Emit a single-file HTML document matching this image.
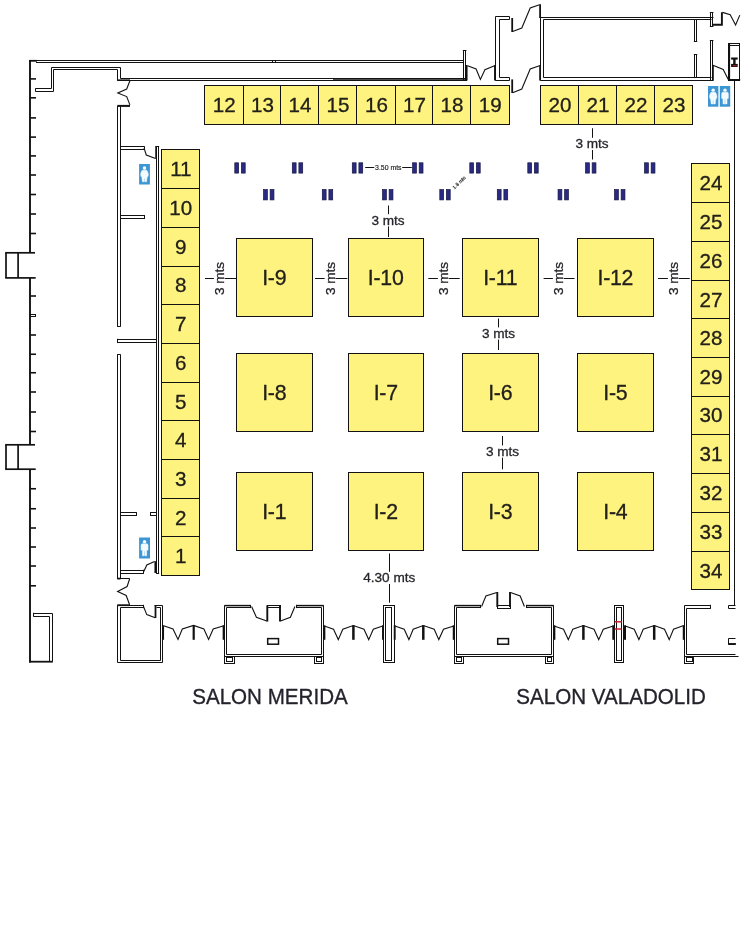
<!DOCTYPE html>
<html lang="es">
<head>
<meta charset="utf-8">
<title>Plano de stands - Salon Merida / Salon Valadolid</title>
<style>
html,body{margin:0;padding:0;background:#fff;}
body{width:748px;height:937px;overflow:hidden;}
svg{display:block;will-change:transform;}
svg text{font-family:"Liberation Sans",Arial,Helvetica,sans-serif;}
</style>
</head>
<body>
<svg width="748" height="937" viewBox="0 0 748 937">
<rect x="0" y="0" width="748" height="937" fill="#ffffff"/>
<rect x="204.5" y="85.5" width="39" height="39" fill="#fff380" stroke="#121212" stroke-width="1"/>
<text x="224.15" y="112.05" font-size="20.6" text-anchor="middle" fill="#22201a" stroke="#22201a" stroke-width="0.3">12</text>
<rect x="243.5" y="85.5" width="37" height="39" fill="#fff380" stroke="#121212" stroke-width="1"/>
<text x="262.4" y="112.05" font-size="20.6" text-anchor="middle" fill="#22201a" stroke="#22201a" stroke-width="0.3">13</text>
<rect x="280.5" y="85.5" width="38" height="39" fill="#fff380" stroke="#121212" stroke-width="1"/>
<text x="299.9" y="112.05" font-size="20.6" text-anchor="middle" fill="#22201a" stroke="#22201a" stroke-width="0.3">14</text>
<rect x="318.5" y="85.5" width="38" height="39" fill="#fff380" stroke="#121212" stroke-width="1"/>
<text x="337.9" y="112.05" font-size="20.6" text-anchor="middle" fill="#22201a" stroke="#22201a" stroke-width="0.3">15</text>
<rect x="356.5" y="85.5" width="39" height="39" fill="#fff380" stroke="#121212" stroke-width="1"/>
<text x="376.4" y="112.05" font-size="20.6" text-anchor="middle" fill="#22201a" stroke="#22201a" stroke-width="0.3">16</text>
<rect x="395.5" y="85.5" width="37" height="39" fill="#fff380" stroke="#121212" stroke-width="1"/>
<text x="414.4" y="112.05" font-size="20.6" text-anchor="middle" fill="#22201a" stroke="#22201a" stroke-width="0.3">17</text>
<rect x="432.5" y="85.5" width="38" height="39" fill="#fff380" stroke="#121212" stroke-width="1"/>
<text x="451.9" y="112.05" font-size="20.6" text-anchor="middle" fill="#22201a" stroke="#22201a" stroke-width="0.3">18</text>
<rect x="470.5" y="85.5" width="39" height="39" fill="#fff380" stroke="#121212" stroke-width="1"/>
<text x="490.15" y="112.05" font-size="20.6" text-anchor="middle" fill="#22201a" stroke="#22201a" stroke-width="0.3">19</text>
<rect x="540.5" y="85.5" width="38" height="39" fill="#fff380" stroke="#121212" stroke-width="1"/>
<text x="560.02" y="112.05" font-size="20.6" text-anchor="middle" fill="#22201a" stroke="#22201a" stroke-width="0.3">20</text>
<rect x="578.5" y="85.5" width="38" height="39" fill="#fff380" stroke="#121212" stroke-width="1"/>
<text x="597.9" y="112.05" font-size="20.6" text-anchor="middle" fill="#22201a" stroke="#22201a" stroke-width="0.3">21</text>
<rect x="616.5" y="85.5" width="38" height="39" fill="#fff380" stroke="#121212" stroke-width="1"/>
<text x="635.9" y="112.05" font-size="20.6" text-anchor="middle" fill="#22201a" stroke="#22201a" stroke-width="0.3">22</text>
<rect x="654.5" y="85.5" width="38" height="39" fill="#fff380" stroke="#121212" stroke-width="1"/>
<text x="674.02" y="112.05" font-size="20.6" text-anchor="middle" fill="#22201a" stroke="#22201a" stroke-width="0.3">23</text>
<rect x="161.5" y="149.5" width="38" height="39" fill="#fff380" stroke="#121212" stroke-width="1"/>
<text x="180.83" y="176.05" font-size="20.6" text-anchor="middle" fill="#22201a" stroke="#22201a" stroke-width="0.3">11</text>
<rect x="161.5" y="188.5" width="38" height="39" fill="#fff380" stroke="#121212" stroke-width="1"/>
<text x="180.83" y="214.8" font-size="20.6" text-anchor="middle" fill="#22201a" stroke="#22201a" stroke-width="0.3">10</text>
<rect x="161.5" y="227.5" width="38" height="39" fill="#fff380" stroke="#121212" stroke-width="1"/>
<text x="180.83" y="253.67" font-size="20.6" text-anchor="middle" fill="#22201a" stroke="#22201a" stroke-width="0.3">9</text>
<rect x="161.5" y="266.5" width="38" height="38" fill="#fff380" stroke="#121212" stroke-width="1"/>
<text x="180.83" y="292.42" font-size="20.6" text-anchor="middle" fill="#22201a" stroke="#22201a" stroke-width="0.3">8</text>
<rect x="161.5" y="304.5" width="38" height="39" fill="#fff380" stroke="#121212" stroke-width="1"/>
<text x="180.83" y="331.05" font-size="20.6" text-anchor="middle" fill="#22201a" stroke="#22201a" stroke-width="0.3">7</text>
<rect x="161.5" y="343.5" width="38" height="39" fill="#fff380" stroke="#121212" stroke-width="1"/>
<text x="180.83" y="369.92" font-size="20.6" text-anchor="middle" fill="#22201a" stroke="#22201a" stroke-width="0.3">6</text>
<rect x="161.5" y="382.5" width="38" height="38" fill="#fff380" stroke="#121212" stroke-width="1"/>
<text x="180.83" y="408.55" font-size="20.6" text-anchor="middle" fill="#22201a" stroke="#22201a" stroke-width="0.3">5</text>
<rect x="161.5" y="420.5" width="38" height="39" fill="#fff380" stroke="#121212" stroke-width="1"/>
<text x="180.83" y="446.92" font-size="20.6" text-anchor="middle" fill="#22201a" stroke="#22201a" stroke-width="0.3">4</text>
<rect x="161.5" y="459.5" width="38" height="39" fill="#fff380" stroke="#121212" stroke-width="1"/>
<text x="180.83" y="485.8" font-size="20.6" text-anchor="middle" fill="#22201a" stroke="#22201a" stroke-width="0.3">3</text>
<rect x="161.5" y="498.5" width="38" height="38" fill="#fff380" stroke="#121212" stroke-width="1"/>
<text x="180.83" y="524.55" font-size="20.6" text-anchor="middle" fill="#22201a" stroke="#22201a" stroke-width="0.3">2</text>
<rect x="161.5" y="536.5" width="38" height="39" fill="#fff380" stroke="#121212" stroke-width="1"/>
<text x="180.83" y="563.12" font-size="20.6" text-anchor="middle" fill="#22201a" stroke="#22201a" stroke-width="0.3">1</text>
<rect x="691.5" y="163.5" width="38" height="39" fill="#fff380" stroke="#121212" stroke-width="1"/>
<text x="710.95" y="190.3" font-size="20.6" text-anchor="middle" fill="#22201a" stroke="#22201a" stroke-width="0.3">24</text>
<rect x="691.5" y="202.5" width="38" height="39" fill="#fff380" stroke="#121212" stroke-width="1"/>
<text x="710.95" y="229.17" font-size="20.6" text-anchor="middle" fill="#22201a" stroke="#22201a" stroke-width="0.3">25</text>
<rect x="691.5" y="241.5" width="38" height="39" fill="#fff380" stroke="#121212" stroke-width="1"/>
<text x="710.95" y="268.05" font-size="20.6" text-anchor="middle" fill="#22201a" stroke="#22201a" stroke-width="0.3">26</text>
<rect x="691.5" y="280.5" width="38" height="38" fill="#fff380" stroke="#121212" stroke-width="1"/>
<text x="710.95" y="306.55" font-size="20.6" text-anchor="middle" fill="#22201a" stroke="#22201a" stroke-width="0.3">27</text>
<rect x="691.5" y="318.5" width="38" height="39" fill="#fff380" stroke="#121212" stroke-width="1"/>
<text x="710.95" y="345.05" font-size="20.6" text-anchor="middle" fill="#22201a" stroke="#22201a" stroke-width="0.3">28</text>
<rect x="691.5" y="357.5" width="38" height="39" fill="#fff380" stroke="#121212" stroke-width="1"/>
<text x="710.95" y="383.8" font-size="20.6" text-anchor="middle" fill="#22201a" stroke="#22201a" stroke-width="0.3">29</text>
<rect x="691.5" y="396.5" width="38" height="38" fill="#fff380" stroke="#121212" stroke-width="1"/>
<text x="710.95" y="422.42" font-size="20.6" text-anchor="middle" fill="#22201a" stroke="#22201a" stroke-width="0.3">30</text>
<rect x="691.5" y="434.5" width="38" height="39" fill="#fff380" stroke="#121212" stroke-width="1"/>
<text x="710.95" y="460.92" font-size="20.6" text-anchor="middle" fill="#22201a" stroke="#22201a" stroke-width="0.3">31</text>
<rect x="691.5" y="473.5" width="38" height="39" fill="#fff380" stroke="#121212" stroke-width="1"/>
<text x="710.95" y="499.92" font-size="20.6" text-anchor="middle" fill="#22201a" stroke="#22201a" stroke-width="0.3">32</text>
<rect x="691.5" y="512.5" width="38" height="39" fill="#fff380" stroke="#121212" stroke-width="1"/>
<text x="710.95" y="539.05" font-size="20.6" text-anchor="middle" fill="#22201a" stroke="#22201a" stroke-width="0.3">33</text>
<rect x="691.5" y="551.5" width="38" height="38" fill="#fff380" stroke="#121212" stroke-width="1"/>
<text x="710.95" y="577.55" font-size="20.6" text-anchor="middle" fill="#22201a" stroke="#22201a" stroke-width="0.3">34</text>
<rect x="236.5" y="238.5" width="76" height="78" fill="#fff380" stroke="#121212" stroke-width="1"/>
<text x="274.2" y="284.88" font-size="21.3" text-anchor="middle" fill="#22201a" stroke="#22201a" stroke-width="0.3" letter-spacing="-0.25">I-9</text>
<rect x="348.5" y="238.5" width="75" height="78" fill="#fff380" stroke="#121212" stroke-width="1"/>
<text x="385.7" y="284.88" font-size="21.3" text-anchor="middle" fill="#22201a" stroke="#22201a" stroke-width="0.3" letter-spacing="-0.25">I-10</text>
<rect x="462.5" y="238.5" width="76" height="78" fill="#fff380" stroke="#121212" stroke-width="1"/>
<text x="500.2" y="284.88" font-size="21.3" text-anchor="middle" fill="#22201a" stroke="#22201a" stroke-width="0.3" letter-spacing="-0.25">I-11</text>
<rect x="577.5" y="238.5" width="76" height="78" fill="#fff380" stroke="#121212" stroke-width="1"/>
<text x="615.33" y="284.88" font-size="21.3" text-anchor="middle" fill="#22201a" stroke="#22201a" stroke-width="0.3" letter-spacing="-0.25">I-12</text>
<rect x="236.5" y="353.5" width="76" height="78" fill="#fff380" stroke="#121212" stroke-width="1"/>
<text x="274.2" y="400.13" font-size="21.3" text-anchor="middle" fill="#22201a" stroke="#22201a" stroke-width="0.3" letter-spacing="-0.25">I-8</text>
<rect x="348.5" y="353.5" width="75" height="78" fill="#fff380" stroke="#121212" stroke-width="1"/>
<text x="385.7" y="400.13" font-size="21.3" text-anchor="middle" fill="#22201a" stroke="#22201a" stroke-width="0.3" letter-spacing="-0.25">I-7</text>
<rect x="462.5" y="353.5" width="76" height="78" fill="#fff380" stroke="#121212" stroke-width="1"/>
<text x="500.2" y="400.13" font-size="21.3" text-anchor="middle" fill="#22201a" stroke="#22201a" stroke-width="0.3" letter-spacing="-0.25">I-6</text>
<rect x="577.5" y="353.5" width="76" height="78" fill="#fff380" stroke="#121212" stroke-width="1"/>
<text x="615.33" y="400.13" font-size="21.3" text-anchor="middle" fill="#22201a" stroke="#22201a" stroke-width="0.3" letter-spacing="-0.25">I-5</text>
<rect x="236.5" y="472.5" width="76" height="78" fill="#fff380" stroke="#121212" stroke-width="1"/>
<text x="274.2" y="518.88" font-size="21.3" text-anchor="middle" fill="#22201a" stroke="#22201a" stroke-width="0.3" letter-spacing="-0.25">I-1</text>
<rect x="348.5" y="472.5" width="75" height="78" fill="#fff380" stroke="#121212" stroke-width="1"/>
<text x="385.7" y="518.88" font-size="21.3" text-anchor="middle" fill="#22201a" stroke="#22201a" stroke-width="0.3" letter-spacing="-0.25">I-2</text>
<rect x="462.5" y="472.5" width="76" height="78" fill="#fff380" stroke="#121212" stroke-width="1"/>
<text x="500.2" y="518.88" font-size="21.3" text-anchor="middle" fill="#22201a" stroke="#22201a" stroke-width="0.3" letter-spacing="-0.25">I-3</text>
<rect x="577.5" y="472.5" width="76" height="78" fill="#fff380" stroke="#121212" stroke-width="1"/>
<text x="615.33" y="518.88" font-size="21.3" text-anchor="middle" fill="#22201a" stroke="#22201a" stroke-width="0.3" letter-spacing="-0.25">I-4</text>
<rect x="234.8" y="162.8" width="3.8" height="10.3" fill="#2a2a86" stroke="#15153f" stroke-width="0.7"/>
<rect x="241.4" y="162.8" width="3.8" height="10.3" fill="#2a2a86" stroke="#15153f" stroke-width="0.7"/>
<rect x="292.3" y="162.8" width="3.8" height="10.3" fill="#2a2a86" stroke="#15153f" stroke-width="0.7"/>
<rect x="298.9" y="162.8" width="3.8" height="10.3" fill="#2a2a86" stroke="#15153f" stroke-width="0.7"/>
<rect x="352.3" y="162.8" width="3.8" height="10.3" fill="#2a2a86" stroke="#15153f" stroke-width="0.7"/>
<rect x="358.9" y="162.8" width="3.8" height="10.3" fill="#2a2a86" stroke="#15153f" stroke-width="0.7"/>
<rect x="412.6" y="162.8" width="3.8" height="10.3" fill="#2a2a86" stroke="#15153f" stroke-width="0.7"/>
<rect x="419.2" y="162.8" width="3.8" height="10.3" fill="#2a2a86" stroke="#15153f" stroke-width="0.7"/>
<rect x="469.8" y="162.8" width="3.8" height="10.3" fill="#2a2a86" stroke="#15153f" stroke-width="0.7"/>
<rect x="476.4" y="162.8" width="3.8" height="10.3" fill="#2a2a86" stroke="#15153f" stroke-width="0.7"/>
<rect x="527.8" y="162.8" width="3.8" height="10.3" fill="#2a2a86" stroke="#15153f" stroke-width="0.7"/>
<rect x="534.4" y="162.8" width="3.8" height="10.3" fill="#2a2a86" stroke="#15153f" stroke-width="0.7"/>
<rect x="585.55" y="162.8" width="3.8" height="10.3" fill="#2a2a86" stroke="#15153f" stroke-width="0.7"/>
<rect x="592.15" y="162.8" width="3.8" height="10.3" fill="#2a2a86" stroke="#15153f" stroke-width="0.7"/>
<rect x="644.55" y="162.8" width="3.8" height="10.3" fill="#2a2a86" stroke="#15153f" stroke-width="0.7"/>
<rect x="651.15" y="162.8" width="3.8" height="10.3" fill="#2a2a86" stroke="#15153f" stroke-width="0.7"/>
<rect x="263.55" y="189.6" width="3.8" height="10.3" fill="#2a2a86" stroke="#15153f" stroke-width="0.7"/>
<rect x="270.15" y="189.6" width="3.8" height="10.3" fill="#2a2a86" stroke="#15153f" stroke-width="0.7"/>
<rect x="322.3" y="189.6" width="3.8" height="10.3" fill="#2a2a86" stroke="#15153f" stroke-width="0.7"/>
<rect x="328.9" y="189.6" width="3.8" height="10.3" fill="#2a2a86" stroke="#15153f" stroke-width="0.7"/>
<rect x="382.55" y="189.6" width="3.8" height="10.3" fill="#2a2a86" stroke="#15153f" stroke-width="0.7"/>
<rect x="389.15" y="189.6" width="3.8" height="10.3" fill="#2a2a86" stroke="#15153f" stroke-width="0.7"/>
<rect x="439.8" y="189.6" width="3.8" height="10.3" fill="#2a2a86" stroke="#15153f" stroke-width="0.7"/>
<rect x="446.4" y="189.6" width="3.8" height="10.3" fill="#2a2a86" stroke="#15153f" stroke-width="0.7"/>
<rect x="497.3" y="189.6" width="3.8" height="10.3" fill="#2a2a86" stroke="#15153f" stroke-width="0.7"/>
<rect x="503.9" y="189.6" width="3.8" height="10.3" fill="#2a2a86" stroke="#15153f" stroke-width="0.7"/>
<rect x="558.05" y="189.6" width="3.8" height="10.3" fill="#2a2a86" stroke="#15153f" stroke-width="0.7"/>
<rect x="564.65" y="189.6" width="3.8" height="10.3" fill="#2a2a86" stroke="#15153f" stroke-width="0.7"/>
<rect x="614.55" y="189.6" width="3.8" height="10.3" fill="#2a2a86" stroke="#15153f" stroke-width="0.7"/>
<rect x="621.15" y="189.6" width="3.8" height="10.3" fill="#2a2a86" stroke="#15153f" stroke-width="0.7"/>
<line x1="205" y1="278.5" x2="213.9" y2="278.5" stroke="#121212" stroke-width="1" stroke-linecap="butt"/>
<line x1="224.7" y1="278.5" x2="236" y2="278.5" stroke="#121212" stroke-width="1" stroke-linecap="butt"/>
<text x="224.17" y="278.5" font-size="13.6" text-anchor="middle" fill="#26262c" stroke="#26262c" stroke-width="0.3" transform="rotate(-90 224.17 278.5)">3 mts</text>
<line x1="315" y1="278.5" x2="324.65" y2="278.5" stroke="#121212" stroke-width="1" stroke-linecap="butt"/>
<line x1="335.45" y1="278.5" x2="347.3" y2="278.5" stroke="#121212" stroke-width="1" stroke-linecap="butt"/>
<text x="334.92" y="278.5" font-size="13.6" text-anchor="middle" fill="#26262c" stroke="#26262c" stroke-width="0.3" transform="rotate(-90 334.92 278.5)">3 mts</text>
<line x1="428.3" y1="278.5" x2="437.9" y2="278.5" stroke="#121212" stroke-width="1" stroke-linecap="butt"/>
<line x1="448.7" y1="278.5" x2="459.7" y2="278.5" stroke="#121212" stroke-width="1" stroke-linecap="butt"/>
<text x="448.17" y="278.5" font-size="13.6" text-anchor="middle" fill="#26262c" stroke="#26262c" stroke-width="0.3" transform="rotate(-90 448.17 278.5)">3 mts</text>
<line x1="543.6" y1="278.5" x2="552.9" y2="278.5" stroke="#121212" stroke-width="1" stroke-linecap="butt"/>
<line x1="563.7" y1="278.5" x2="574.5" y2="278.5" stroke="#121212" stroke-width="1" stroke-linecap="butt"/>
<text x="563.17" y="278.5" font-size="13.6" text-anchor="middle" fill="#26262c" stroke="#26262c" stroke-width="0.3" transform="rotate(-90 563.17 278.5)">3 mts</text>
<line x1="658" y1="278.5" x2="667.9" y2="278.5" stroke="#121212" stroke-width="1" stroke-linecap="butt"/>
<line x1="678.7" y1="278.5" x2="689.75" y2="278.5" stroke="#121212" stroke-width="1" stroke-linecap="butt"/>
<text x="678.17" y="278.5" font-size="13.6" text-anchor="middle" fill="#26262c" stroke="#26262c" stroke-width="0.3" transform="rotate(-90 678.17 278.5)">3 mts</text>
<line x1="592.5" y1="128.25" x2="592.5" y2="137.8" stroke="#121212" stroke-width="1" stroke-linecap="butt"/>
<line x1="592.5" y1="150" x2="592.5" y2="159.5" stroke="#121212" stroke-width="1" stroke-linecap="butt"/>
<text x="592" y="148.47" font-size="13.6" text-anchor="middle" fill="#26262c" stroke="#26262c" stroke-width="0.3">3 mts</text>
<line x1="388.5" y1="205.5" x2="388.5" y2="214.2" stroke="#121212" stroke-width="1" stroke-linecap="butt"/>
<line x1="388.5" y1="226.4" x2="388.5" y2="237" stroke="#121212" stroke-width="1" stroke-linecap="butt"/>
<text x="388" y="224.87" font-size="13.6" text-anchor="middle" fill="#26262c" stroke="#26262c" stroke-width="0.3">3 mts</text>
<line x1="498.5" y1="318.5" x2="498.5" y2="327.4" stroke="#121212" stroke-width="1" stroke-linecap="butt"/>
<line x1="498.5" y1="339.6" x2="498.5" y2="350" stroke="#121212" stroke-width="1" stroke-linecap="butt"/>
<text x="498.5" y="338.07" font-size="13.6" text-anchor="middle" fill="#26262c" stroke="#26262c" stroke-width="0.3">3 mts</text>
<line x1="502.5" y1="436" x2="502.5" y2="445.5" stroke="#121212" stroke-width="1" stroke-linecap="butt"/>
<line x1="502.5" y1="457.7" x2="502.5" y2="469.3" stroke="#121212" stroke-width="1" stroke-linecap="butt"/>
<text x="502.5" y="456.17" font-size="13.6" text-anchor="middle" fill="#26262c" stroke="#26262c" stroke-width="0.3">3 mts</text>
<line x1="389.5" y1="553.5" x2="389.5" y2="571.8" stroke="#121212" stroke-width="1" stroke-linecap="butt"/>
<line x1="389.5" y1="584" x2="389.5" y2="602.7" stroke="#121212" stroke-width="1" stroke-linecap="butt"/>
<text x="389.3" y="582.47" font-size="13.6" text-anchor="middle" fill="#26262c" stroke="#26262c" stroke-width="0.3">4.30 mts</text>
<text x="388.3" y="170" font-size="6.9" text-anchor="middle" fill="#222" stroke="#222" stroke-width="0.15">3.50 mts</text>
<line x1="365.2" y1="167.5" x2="374.3" y2="167.5" stroke="#121212" stroke-width="1" stroke-linecap="butt"/>
<line x1="402.2" y1="167.5" x2="411.8" y2="167.5" stroke="#121212" stroke-width="1" stroke-linecap="butt"/>
<text x="460.3" y="183.8" font-size="4.9" text-anchor="middle" fill="#111" stroke="#111" stroke-width="0.15" transform="rotate(-45 460.3 183.8)">1.8 mts</text>
<text transform="translate(192.2 704.4) scale(1 1.065)" x="0" y="0" font-size="20.6" text-anchor="start" fill="#24222b" stroke="#24222b" stroke-width="0.3">SALON MERIDA</text>
<text transform="translate(516.3 704.4) scale(1 1.065)" x="0" y="0" font-size="20.6" text-anchor="start" fill="#24222b" stroke="#24222b" stroke-width="0.3">SALON VALADOLID</text>
<line x1="30" y1="59.9" x2="30" y2="252.8" stroke="#121212" stroke-width="1.9" stroke-linecap="butt"/>
<line x1="30" y1="277.8" x2="30" y2="444.8" stroke="#121212" stroke-width="1.9" stroke-linecap="butt"/>
<line x1="30" y1="469.2" x2="30" y2="662.5" stroke="#121212" stroke-width="1.9" stroke-linecap="butt"/>
<line x1="30" y1="78.9" x2="36" y2="78.9" stroke="#121212" stroke-width="1.6" stroke-linecap="butt"/>
<line x1="30" y1="97.8" x2="36" y2="97.8" stroke="#121212" stroke-width="1.6" stroke-linecap="butt"/>
<line x1="30" y1="117.9" x2="36" y2="117.9" stroke="#121212" stroke-width="1.6" stroke-linecap="butt"/>
<line x1="30" y1="137.1" x2="36" y2="137.1" stroke="#121212" stroke-width="1.6" stroke-linecap="butt"/>
<line x1="30" y1="155.9" x2="36" y2="155.9" stroke="#121212" stroke-width="1.6" stroke-linecap="butt"/>
<line x1="30" y1="175" x2="36" y2="175" stroke="#121212" stroke-width="1.6" stroke-linecap="butt"/>
<line x1="30" y1="194.5" x2="36" y2="194.5" stroke="#121212" stroke-width="1.6" stroke-linecap="butt"/>
<line x1="30" y1="214" x2="36" y2="214" stroke="#121212" stroke-width="1.6" stroke-linecap="butt"/>
<line x1="30" y1="233.5" x2="36" y2="233.5" stroke="#121212" stroke-width="1.6" stroke-linecap="butt"/>
<line x1="30" y1="296" x2="36" y2="296" stroke="#121212" stroke-width="1.6" stroke-linecap="butt"/>
<line x1="30" y1="335" x2="36" y2="335" stroke="#121212" stroke-width="1.6" stroke-linecap="butt"/>
<line x1="30" y1="354.25" x2="36" y2="354.25" stroke="#121212" stroke-width="1.6" stroke-linecap="butt"/>
<line x1="30" y1="372.75" x2="36" y2="372.75" stroke="#121212" stroke-width="1.6" stroke-linecap="butt"/>
<line x1="30" y1="392" x2="36" y2="392" stroke="#121212" stroke-width="1.6" stroke-linecap="butt"/>
<line x1="30" y1="412" x2="36" y2="412" stroke="#121212" stroke-width="1.6" stroke-linecap="butt"/>
<line x1="30" y1="431.5" x2="36" y2="431.5" stroke="#121212" stroke-width="1.6" stroke-linecap="butt"/>
<line x1="30" y1="488.75" x2="36" y2="488.75" stroke="#121212" stroke-width="1.6" stroke-linecap="butt"/>
<line x1="30" y1="508.75" x2="36" y2="508.75" stroke="#121212" stroke-width="1.6" stroke-linecap="butt"/>
<line x1="30" y1="528" x2="36" y2="528" stroke="#121212" stroke-width="1.6" stroke-linecap="butt"/>
<line x1="30" y1="547" x2="36" y2="547" stroke="#121212" stroke-width="1.6" stroke-linecap="butt"/>
<line x1="30" y1="566" x2="36" y2="566" stroke="#121212" stroke-width="1.6" stroke-linecap="butt"/>
<line x1="30" y1="585.8" x2="36" y2="585.8" stroke="#121212" stroke-width="1.6" stroke-linecap="butt"/>
<rect x="30.5" y="314.5" width="5" height="2" fill="none" stroke="#121212" stroke-width="1"/>
<line x1="5.2" y1="252.8" x2="35" y2="252.8" stroke="#121212" stroke-width="1.7" stroke-linecap="butt"/>
<line x1="5.2" y1="277.9" x2="35.7" y2="277.9" stroke="#121212" stroke-width="1.7" stroke-linecap="butt"/>
<line x1="6" y1="252.8" x2="6" y2="277.9" stroke="#121212" stroke-width="1.7" stroke-linecap="butt"/>
<line x1="18.1" y1="252.8" x2="18.1" y2="277.9" stroke="#121212" stroke-width="1.7" stroke-linecap="butt"/>
<line x1="5.2" y1="444.8" x2="35" y2="444.8" stroke="#121212" stroke-width="1.7" stroke-linecap="butt"/>
<line x1="5.2" y1="469.2" x2="35.7" y2="469.2" stroke="#121212" stroke-width="1.7" stroke-linecap="butt"/>
<line x1="6" y1="444.8" x2="6" y2="469.2" stroke="#121212" stroke-width="1.7" stroke-linecap="butt"/>
<line x1="18.1" y1="444.8" x2="18.1" y2="469.2" stroke="#121212" stroke-width="1.7" stroke-linecap="butt"/>
<line x1="29" y1="60.5" x2="463.3" y2="60.5" stroke="#121212" stroke-width="1" stroke-linecap="butt"/>
<line x1="36" y1="62.5" x2="463.3" y2="62.5" stroke="#121212" stroke-width="1" stroke-linecap="butt"/>
<line x1="29" y1="60.8" x2="37" y2="60.8" stroke="#121212" stroke-width="1.8" stroke-linecap="butt"/>
<line x1="272.5" y1="60.4" x2="272.5" y2="62.4" stroke="#121212" stroke-width="1" stroke-linecap="butt"/>
<line x1="275.5" y1="60.4" x2="275.5" y2="62.4" stroke="#121212" stroke-width="1" stroke-linecap="butt"/>
<path d="M35.5 88.5 L51.5 88.5 L51.5 67.5 L120.5 67.5 L120.5 78.5 L466.5 78.5" fill="none" stroke="#121212" stroke-width="1" stroke-linejoin="miter"/>
<path d="M35.5 91.5 L53.5 91.5 L53.5 69.5 L117.5 69.5 L117.5 80.5 L466.5 80.5" fill="none" stroke="#121212" stroke-width="1" stroke-linejoin="miter"/>
<line x1="35.5" y1="88.3" x2="35.5" y2="91.6" stroke="#121212" stroke-width="1" stroke-linecap="butt"/>
<line x1="117.3" y1="80.2" x2="130" y2="80.2" stroke="#121212" stroke-width="1.6" stroke-linecap="butt"/>
<line x1="333" y1="80.1" x2="467" y2="80.1" stroke="#121212" stroke-width="1.6" stroke-linecap="butt"/>
<path d="M129.9 80.8 L126.7 89 L117.8 93 L126.7 96.6 L129.9 104.9" fill="none" stroke="#121212" stroke-width="1.1" stroke-linejoin="miter"/>
<line x1="117.3" y1="105.9" x2="130" y2="105.9" stroke="#121212" stroke-width="2" stroke-linecap="butt"/>
<line x1="117.5" y1="106" x2="117.5" y2="326.5" stroke="#121212" stroke-width="1" stroke-linecap="butt"/>
<line x1="120.5" y1="106" x2="120.5" y2="326.5" stroke="#121212" stroke-width="1" stroke-linecap="butt"/>
<line x1="117.15" y1="326.5" x2="120.65" y2="326.5" stroke="#121212" stroke-width="1" stroke-linecap="butt"/>
<line x1="117.5" y1="354.6" x2="117.5" y2="579" stroke="#121212" stroke-width="1" stroke-linecap="butt"/>
<line x1="120.5" y1="354.6" x2="120.5" y2="579" stroke="#121212" stroke-width="1" stroke-linecap="butt"/>
<line x1="117.15" y1="354.5" x2="120.65" y2="354.5" stroke="#121212" stroke-width="1" stroke-linecap="butt"/>
<line x1="117.3" y1="578.6" x2="120.5" y2="578.6" stroke="#121212" stroke-width="1.8" stroke-linecap="butt"/>
<line x1="117.3" y1="578.5" x2="129.8" y2="578.5" stroke="#121212" stroke-width="1" stroke-linecap="butt"/>
<line x1="156.5" y1="146.4" x2="156.5" y2="573.2" stroke="#121212" stroke-width="1" stroke-linecap="butt"/>
<line x1="158.5" y1="146.4" x2="158.5" y2="573.2" stroke="#121212" stroke-width="1" stroke-linecap="butt"/>
<line x1="156.05" y1="146.5" x2="159.15" y2="146.5" stroke="#121212" stroke-width="1" stroke-linecap="butt"/>
<line x1="156.05" y1="573.5" x2="159.15" y2="573.5" stroke="#121212" stroke-width="1" stroke-linecap="butt"/>
<line x1="156.1" y1="146" x2="156.1" y2="158.8" stroke="#121212" stroke-width="1.7" stroke-linecap="butt"/>
<line x1="120.1" y1="146.5" x2="144" y2="146.5" stroke="#121212" stroke-width="1" stroke-linecap="butt"/>
<line x1="120.1" y1="149.5" x2="144" y2="149.5" stroke="#121212" stroke-width="1" stroke-linecap="butt"/>
<line x1="144.5" y1="146.15" x2="144.5" y2="149.65" stroke="#121212" stroke-width="1" stroke-linecap="butt"/>
<path d="M144 147.8 L146.3 155 L155.5 158.4" fill="none" stroke="#121212" stroke-width="1.1" stroke-linejoin="miter"/>
<line x1="120.1" y1="215.5" x2="144.5" y2="215.5" stroke="#121212" stroke-width="1" stroke-linecap="butt"/>
<line x1="120.1" y1="218.5" x2="144.5" y2="218.5" stroke="#121212" stroke-width="1" stroke-linecap="butt"/>
<line x1="144.5" y1="214.95" x2="144.5" y2="219.05" stroke="#121212" stroke-width="1" stroke-linecap="butt"/>
<line x1="117.7" y1="339.5" x2="156.6" y2="339.5" stroke="#121212" stroke-width="1" stroke-linecap="butt"/>
<line x1="117.7" y1="342.5" x2="156.6" y2="342.5" stroke="#121212" stroke-width="1" stroke-linecap="butt"/>
<line x1="117.5" y1="338.75" x2="117.5" y2="343.05" stroke="#121212" stroke-width="1" stroke-linecap="butt"/>
<line x1="120.1" y1="512.5" x2="136.5" y2="512.5" stroke="#121212" stroke-width="1" stroke-linecap="butt"/>
<line x1="120.1" y1="515.5" x2="136.5" y2="515.5" stroke="#121212" stroke-width="1" stroke-linecap="butt"/>
<line x1="136.5" y1="512.15" x2="136.5" y2="515.95" stroke="#121212" stroke-width="1" stroke-linecap="butt"/>
<line x1="150.5" y1="512.5" x2="156.6" y2="512.5" stroke="#121212" stroke-width="1" stroke-linecap="butt"/>
<line x1="150.5" y1="515.5" x2="156.6" y2="515.5" stroke="#121212" stroke-width="1" stroke-linecap="butt"/>
<line x1="150.5" y1="512.15" x2="150.5" y2="515.95" stroke="#121212" stroke-width="1" stroke-linecap="butt"/>
<line x1="120.1" y1="570.5" x2="143.8" y2="570.5" stroke="#121212" stroke-width="1" stroke-linecap="butt"/>
<line x1="120.1" y1="573.5" x2="143.8" y2="573.5" stroke="#121212" stroke-width="1" stroke-linecap="butt"/>
<line x1="143.5" y1="569.75" x2="143.5" y2="573.75" stroke="#121212" stroke-width="1" stroke-linecap="butt"/>
<path d="M143.8 571.5 L146.8 565 L154.6 561.6" fill="none" stroke="#121212" stroke-width="1.1" stroke-linejoin="miter"/>
<line x1="155.4" y1="561.2" x2="155.4" y2="573" stroke="#121212" stroke-width="1.9" stroke-linecap="butt"/>
<path d="M129.6 579 L127.1 586.5 L117.6 591.5 L126.2 595.5 L129.6 604.8" fill="none" stroke="#121212" stroke-width="1.1" stroke-linejoin="miter"/>
<line x1="463.5" y1="50.5" x2="463.5" y2="80.3" stroke="#121212" stroke-width="1" stroke-linecap="butt"/>
<line x1="465.5" y1="50.5" x2="465.5" y2="80.3" stroke="#121212" stroke-width="1" stroke-linecap="butt"/>
<line x1="462.85" y1="50.5" x2="466.45" y2="50.5" stroke="#121212" stroke-width="1" stroke-linecap="butt"/>
<line x1="466.7" y1="65" x2="466.7" y2="80.5" stroke="#121212" stroke-width="1.7" stroke-linecap="butt"/>
<path d="M467.6 65.8 L476.1 69 L480.4 79.4 L484.9 69.8 L494.5 65.8" fill="none" stroke="#121212" stroke-width="1.1" stroke-linejoin="miter"/>
<path d="M509.5 16.5 L495.5 16.5 L495.5 80.5 L509.5 80.5 L509.5 77.5 L499.5 77.5 L499.5 19.5 L509.5 19.5 Z" fill="none" stroke="#121212" stroke-width="1" stroke-linejoin="miter"/>
<line x1="494.9" y1="65" x2="494.9" y2="80.5" stroke="#121212" stroke-width="1.7" stroke-linecap="butt"/>
<line x1="512.2" y1="18" x2="512.2" y2="32" stroke="#121212" stroke-width="1.8" stroke-linecap="butt"/>
<path d="M512.6 31.5 L521.8 28 L530.2 8 L539.5 4.8" fill="none" stroke="#121212" stroke-width="1.1" stroke-linejoin="miter"/>
<line x1="540.1" y1="4.3" x2="540.1" y2="18" stroke="#121212" stroke-width="1.8" stroke-linecap="butt"/>
<line x1="512.2" y1="79.4" x2="512.2" y2="93" stroke="#121212" stroke-width="1.8" stroke-linecap="butt"/>
<path d="M512.6 92.7 L521.8 89 L530.2 69 L539.5 65.8" fill="none" stroke="#121212" stroke-width="1.1" stroke-linejoin="miter"/>
<line x1="540.1" y1="65" x2="540.1" y2="80.5" stroke="#121212" stroke-width="1.8" stroke-linecap="butt"/>
<path d="M713.5 17.5 L540.5 17.5 L540.5 80.5 L713.5 80.5" fill="none" stroke="#121212" stroke-width="1" stroke-linejoin="miter"/>
<path d="M711.5 19.5 L543.5 19.5 L543.5 77.5 L711.5 77.5" fill="none" stroke="#121212" stroke-width="1" stroke-linejoin="miter"/>
<line x1="694.5" y1="19.5" x2="694.5" y2="41.4" stroke="#121212" stroke-width="1" stroke-linecap="butt"/>
<line x1="696.5" y1="19.5" x2="696.5" y2="41.4" stroke="#121212" stroke-width="1" stroke-linecap="butt"/>
<line x1="693.85" y1="41.5" x2="697.25" y2="41.5" stroke="#121212" stroke-width="1" stroke-linecap="butt"/>
<line x1="694.5" y1="54.4" x2="694.5" y2="77.9" stroke="#121212" stroke-width="1" stroke-linecap="butt"/>
<line x1="696.5" y1="54.4" x2="696.5" y2="77.9" stroke="#121212" stroke-width="1" stroke-linecap="butt"/>
<line x1="693.85" y1="54.5" x2="697.25" y2="54.5" stroke="#121212" stroke-width="1" stroke-linecap="butt"/>
<line x1="710.5" y1="12.4" x2="710.5" y2="26.3" stroke="#121212" stroke-width="1" stroke-linecap="butt"/>
<line x1="712.5" y1="12.4" x2="712.5" y2="26.3" stroke="#121212" stroke-width="1" stroke-linecap="butt"/>
<line x1="709.85" y1="12.5" x2="713.45" y2="12.5" stroke="#121212" stroke-width="1" stroke-linecap="butt"/>
<line x1="709.85" y1="26.5" x2="713.45" y2="26.5" stroke="#121212" stroke-width="1" stroke-linecap="butt"/>
<line x1="710.5" y1="40.3" x2="710.5" y2="80.2" stroke="#121212" stroke-width="1" stroke-linecap="butt"/>
<line x1="712.5" y1="40.3" x2="712.5" y2="80.2" stroke="#121212" stroke-width="1" stroke-linecap="butt"/>
<line x1="709.85" y1="40.5" x2="713.45" y2="40.5" stroke="#121212" stroke-width="1" stroke-linecap="butt"/>
<line x1="713" y1="65" x2="713" y2="80.5" stroke="#121212" stroke-width="1.6" stroke-linecap="butt"/>
<path d="M713 24.7 L721.9 24.7 L721.9 12.2" fill="none" stroke="#121212" stroke-width="1.9" stroke-linejoin="miter"/>
<path d="M722.5 12.4 L730.2 14.7 L735.6 25 L739.8 15.1" fill="none" stroke="#121212" stroke-width="1.1" stroke-linejoin="miter"/>
<path d="M713 65.3 L723.2 69.5 L728.3 79.4" fill="none" stroke="#121212" stroke-width="1.1" stroke-linejoin="miter"/>
<rect x="728.5" y="43.5" width="11" height="37" fill="none" stroke="#121212" stroke-width="1"/>
<line x1="728.6" y1="45.5" x2="740" y2="45.5" stroke="#121212" stroke-width="1" stroke-linecap="butt"/>
<line x1="729.2" y1="43.5" x2="729.2" y2="80.5" stroke="#121212" stroke-width="1.8" stroke-linecap="butt"/>
<line x1="728.3" y1="79.8" x2="740.2" y2="79.8" stroke="#121212" stroke-width="1.6" stroke-linecap="butt"/>
<rect x="731.1" y="57.5" width="6.6" height="2.1" fill="#111"/>
<rect x="733.2" y="59" width="2.4" height="5.5" fill="#111"/>
<rect x="731.1" y="63.9" width="6.6" height="3.1" fill="#111"/>
<rect x="732.6" y="65.2" width="4.2" height="1.1" fill="#b0202a"/>
<line x1="734.5" y1="80.5" x2="734.5" y2="605.3" stroke="#121212" stroke-width="1" stroke-linecap="butt"/>
<line x1="729.5" y1="163.75" x2="729.5" y2="589.5" stroke="#121212" stroke-width="1" stroke-linecap="butt"/>
<rect x="139.1" y="164" width="10.8" height="20.5" fill="#3d96d4"/>
<circle cx="144.5" cy="168.1" r="1.78" fill="#f4fbff"/>
<path d="M142.34 170.15 L146.66 170.15 Q147.74 170.97 148.39 174.25 Q148.39 176.3 147.09 177.53 L146.55 181.84 L144.82 181.84 L144.82 178.35 L144.18 178.35 L144.18 181.84 L142.45 181.84 L141.91 177.53 Q140.61 176.3 140.61 174.25 Q141.26 170.97 142.34 170.15 Z" fill="#f4fbff" stroke="#f4fbff" stroke-width="0.5" stroke-linejoin="round"/>
<rect x="139.1" y="537.5" width="10.9" height="21" fill="#3d96d4"/>
<circle cx="144.55" cy="541.7" r="1.8" fill="#f4fbff"/>
<path d="M142.15 543.8 L146.95 543.8 Q148.04 544.01 148.04 545.27 L148.04 550.1 L146.73 550.1 L146.62 555.77 L144.88 555.77 L144.88 550.94 L144.22 550.94 L144.22 555.77 L142.48 555.77 L142.37 550.1 L141.06 550.1 L141.06 545.27 Q141.06 544.01 142.15 543.8 Z" fill="#f4fbff" stroke="#f4fbff" stroke-width="0.5" stroke-linejoin="round"/>
<rect x="708" y="86" width="10.4" height="20.7" fill="#3d96d4"/>
<circle cx="713.2" cy="90.14" r="1.72" fill="#f4fbff"/>
<path d="M711.12 92.21 L715.28 92.21 Q716.32 93.04 716.94 96.35 Q716.94 98.42 715.7 99.66 L715.18 104.01 L713.51 104.01 L713.51 100.49 L712.89 100.49 L712.89 104.01 L711.22 104.01 L710.7 99.66 Q709.46 98.42 709.46 96.35 Q710.08 93.04 711.12 92.21 Z" fill="#f4fbff" stroke="#f4fbff" stroke-width="0.5" stroke-linejoin="round"/>
<rect x="719.8" y="86" width="10.4" height="20.7" fill="#3d96d4"/>
<circle cx="725" cy="90.14" r="1.72" fill="#f4fbff"/>
<path d="M722.71 92.21 L727.29 92.21 Q728.33 92.42 728.33 93.66 L728.33 98.42 L727.08 98.42 L726.98 104.01 L725.31 104.01 L725.31 99.25 L724.69 99.25 L724.69 104.01 L723.02 104.01 L722.92 98.42 L721.67 98.42 L721.67 93.66 Q721.67 92.42 722.71 92.21 Z" fill="#f4fbff" stroke="#f4fbff" stroke-width="0.5" stroke-linejoin="round"/>
<line x1="29.1" y1="661.7" x2="52.8" y2="661.7" stroke="#121212" stroke-width="1.8" stroke-linecap="butt"/>
<path d="M33.5 613.5 L52.5 613.5 L52.5 661.5" fill="none" stroke="#121212" stroke-width="1" stroke-linejoin="miter"/>
<path d="M33.5 616.5 L49.5 616.5 L49.5 661.5" fill="none" stroke="#121212" stroke-width="1" stroke-linejoin="miter"/>
<line x1="33.5" y1="612.8" x2="33.5" y2="616.6" stroke="#121212" stroke-width="1" stroke-linecap="butt"/>
<path d="M143.5 605.5 L117.5 605.5 L117.5 662.5 L162.5 662.5 L162.5 605.5 L154.5 605.5" fill="none" stroke="#121212" stroke-width="1" stroke-linejoin="miter"/>
<path d="M143.5 607.5 L120.5 607.5 L120.5 660.5 L160.5 660.5 L160.5 607.5 L156.5 607.5" fill="none" stroke="#121212" stroke-width="1" stroke-linejoin="miter"/>
<line x1="143.5" y1="604.8" x2="143.5" y2="608.1" stroke="#121212" stroke-width="1" stroke-linecap="butt"/>
<line x1="117.2" y1="605.2" x2="130" y2="605.2" stroke="#121212" stroke-width="1.8" stroke-linecap="butt"/>
<path d="M143.4 606.2 L146.8 614.6 L155.2 617.8" fill="none" stroke="#121212" stroke-width="1.1" stroke-linejoin="miter"/>
<line x1="155.5" y1="605.2" x2="155.5" y2="618" stroke="#121212" stroke-width="1.8" stroke-linecap="butt"/>
<path d="M163.6 625.8 L173 629 L178 639.5 L182.3 629 L193.6 625.4 L203.9 629 L208.6 639.5 L213.2 629 L223.9 625.8" fill="none" stroke="#121212" stroke-width="1.1" stroke-linejoin="miter"/>
<line x1="163.1" y1="625.3" x2="163.1" y2="639.8" stroke="#121212" stroke-width="1.9" stroke-linecap="butt"/>
<line x1="193.7" y1="625.3" x2="193.7" y2="639.8" stroke="#121212" stroke-width="2.2" stroke-linecap="butt"/>
<line x1="223.6" y1="625.3" x2="223.6" y2="639.8" stroke="#121212" stroke-width="1.9" stroke-linecap="butt"/>
<path d="M324.3 626 L333.5 629.3 L338.3 639.6 L342.8 629.3 L353.3 625.6 L364 629.3 L368.7 639.6 L373.3 629.3 L382.7 626" fill="none" stroke="#121212" stroke-width="1.1" stroke-linejoin="miter"/>
<line x1="324.4" y1="625.3" x2="324.4" y2="639.8" stroke="#121212" stroke-width="1.9" stroke-linecap="butt"/>
<line x1="353.4" y1="625.3" x2="353.4" y2="639.8" stroke="#121212" stroke-width="2.5" stroke-linecap="butt"/>
<line x1="383" y1="625.3" x2="383" y2="639.8" stroke="#121212" stroke-width="1.9" stroke-linecap="butt"/>
<path d="M394.9 626 L404.2 629.3 L408.9 639.6 L413.2 629.3 L423.3 625.6 L434.2 629.3 L438.8 639.6 L443.5 629.3 L453.8 626" fill="none" stroke="#121212" stroke-width="1.1" stroke-linejoin="miter"/>
<line x1="394.7" y1="625.3" x2="394.7" y2="639.8" stroke="#121212" stroke-width="1.9" stroke-linecap="butt"/>
<line x1="423.3" y1="625.3" x2="423.3" y2="639.8" stroke="#121212" stroke-width="2.5" stroke-linecap="butt"/>
<line x1="453.7" y1="625.3" x2="453.7" y2="639.8" stroke="#121212" stroke-width="1.9" stroke-linecap="butt"/>
<path d="M554.1 626 L563.5 629.3 L568.3 639.6 L572.8 629.3 L583.3 625.6 L594 629.3 L598.7 639.6 L603.3 629.3 L613.3 626" fill="none" stroke="#121212" stroke-width="1.1" stroke-linejoin="miter"/>
<line x1="554.4" y1="625.3" x2="554.4" y2="639.8" stroke="#121212" stroke-width="1.9" stroke-linecap="butt"/>
<line x1="583.4" y1="625.3" x2="583.4" y2="639.8" stroke="#121212" stroke-width="2.5" stroke-linecap="butt"/>
<line x1="613.4" y1="625.3" x2="613.4" y2="639.8" stroke="#121212" stroke-width="2.2" stroke-linecap="butt"/>
<path d="M625.2 626 L634.2 629.3 L638.9 639.6 L643.2 629.3 L654.4 625.6 L664.5 629.3 L669.2 639.6 L673.5 629.3 L683.8 625.6" fill="none" stroke="#121212" stroke-width="1.1" stroke-linejoin="miter"/>
<line x1="624.9" y1="625.3" x2="624.9" y2="639.8" stroke="#121212" stroke-width="2.2" stroke-linecap="butt"/>
<line x1="654.2" y1="625.3" x2="654.2" y2="639.8" stroke="#121212" stroke-width="2.5" stroke-linecap="butt"/>
<line x1="683.7" y1="625.3" x2="683.7" y2="639.8" stroke="#121212" stroke-width="1.9" stroke-linecap="butt"/>
<path d="M250.5 605.5 L224.5 605.5 L224.5 656.5 L323.5 656.5 L323.5 605.5 L296.5 605.5" fill="none" stroke="#121212" stroke-width="1" stroke-linejoin="miter"/>
<path d="M250.5 607.5 L226.5 607.5 L226.5 654.5 L321.5 654.5 L321.5 607.5 L296.5 607.5" fill="none" stroke="#121212" stroke-width="1" stroke-linejoin="miter"/>
<line x1="250.5" y1="604.9" x2="250.5" y2="608.1" stroke="#121212" stroke-width="1" stroke-linecap="butt"/>
<line x1="296.5" y1="604.9" x2="296.5" y2="608.1" stroke="#121212" stroke-width="1" stroke-linecap="butt"/>
<line x1="224.6" y1="605.6" x2="250.6" y2="605.6" stroke="#121212" stroke-width="1.5" stroke-linecap="butt"/>
<line x1="296" y1="605.6" x2="323.6" y2="605.6" stroke="#121212" stroke-width="1.5" stroke-linecap="butt"/>
<rect x="224.5" y="656.5" width="10" height="7" fill="none" stroke="#121212" stroke-width="1"/>
<rect x="226.5" y="657.5" width="6" height="4" fill="none" stroke="#121212" stroke-width="1"/>
<rect x="314.5" y="656.5" width="9" height="7" fill="none" stroke="#121212" stroke-width="1"/>
<rect x="316.5" y="657.5" width="5" height="4" fill="none" stroke="#121212" stroke-width="1"/>
<rect x="267.7" y="638.6" width="10.8" height="5.6" fill="none" stroke="#121212" stroke-width="1.5"/>
<path d="M251.6 606.5 L256.4 617.3 L266.8 621" fill="none" stroke="#121212" stroke-width="1.1" stroke-linejoin="miter"/>
<path d="M280.5 621 L290.4 617.3 L294.9 606.5" fill="none" stroke="#121212" stroke-width="1.1" stroke-linejoin="miter"/>
<line x1="267.3" y1="605.3" x2="267.3" y2="621.6" stroke="#121212" stroke-width="1.9" stroke-linecap="butt"/>
<line x1="280" y1="605.3" x2="280" y2="621.6" stroke="#121212" stroke-width="1.9" stroke-linecap="butt"/>
<rect x="267.5" y="605.5" width="13" height="2" fill="none" stroke="#121212" stroke-width="1"/>
<path d="M480.5 605.5 L454.5 605.5 L454.5 656.5 L553.5 656.5 L553.5 605.5 L526.5 605.5" fill="none" stroke="#121212" stroke-width="1" stroke-linejoin="miter"/>
<path d="M480.5 607.5 L456.5 607.5 L456.5 654.5 L551.5 654.5 L551.5 607.5 L526.5 607.5" fill="none" stroke="#121212" stroke-width="1" stroke-linejoin="miter"/>
<line x1="480.5" y1="604.9" x2="480.5" y2="608.1" stroke="#121212" stroke-width="1" stroke-linecap="butt"/>
<line x1="526.5" y1="604.9" x2="526.5" y2="608.1" stroke="#121212" stroke-width="1" stroke-linecap="butt"/>
<line x1="454.6" y1="605.6" x2="480.6" y2="605.6" stroke="#121212" stroke-width="1.5" stroke-linecap="butt"/>
<line x1="526" y1="605.6" x2="553.6" y2="605.6" stroke="#121212" stroke-width="1.5" stroke-linecap="butt"/>
<rect x="454.5" y="656.5" width="9" height="7" fill="none" stroke="#121212" stroke-width="1"/>
<rect x="456.5" y="657.5" width="5" height="4" fill="none" stroke="#121212" stroke-width="1"/>
<rect x="545.5" y="656.5" width="8" height="7" fill="none" stroke="#121212" stroke-width="1"/>
<rect x="547.5" y="657.5" width="4" height="4" fill="none" stroke="#121212" stroke-width="1"/>
<rect x="497.7" y="638.6" width="10.8" height="5.6" fill="none" stroke="#121212" stroke-width="1.5"/>
<path d="M481.6 606.5 L485.9 596 L496.8 592.4" fill="none" stroke="#121212" stroke-width="1.1" stroke-linejoin="miter"/>
<path d="M510.5 592.4 L520.2 596 L524.4 606.5" fill="none" stroke="#121212" stroke-width="1.1" stroke-linejoin="miter"/>
<line x1="497.3" y1="592" x2="497.3" y2="607" stroke="#121212" stroke-width="1.9" stroke-linecap="butt"/>
<line x1="510" y1="592" x2="510" y2="607" stroke="#121212" stroke-width="1.9" stroke-linecap="butt"/>
<rect x="497.5" y="605.5" width="13" height="3" fill="none" stroke="#121212" stroke-width="1"/>
<rect x="383.5" y="605.5" width="11" height="57" fill="none" stroke="#121212" stroke-width="1"/>
<rect x="385.5" y="607.5" width="6" height="53" fill="none" stroke="#121212" stroke-width="1"/>
<rect x="614.5" y="605.5" width="9" height="57" fill="none" stroke="#121212" stroke-width="1"/>
<rect x="616.5" y="607.5" width="5" height="53" fill="none" stroke="#121212" stroke-width="1"/>
<line x1="614.7" y1="621.8" x2="621.7" y2="621.8" stroke="#d01f2b" stroke-width="1.5" stroke-linecap="butt"/>
<line x1="614.7" y1="629" x2="621.7" y2="629" stroke="#d01f2b" stroke-width="1.5" stroke-linecap="butt"/>
<path d="M710.5 605.5 L684.5 605.5 L684.5 656.5 L738.5 656.5" fill="none" stroke="#121212" stroke-width="1" stroke-linejoin="miter"/>
<path d="M710.5 608.5 L686.5 608.5 L686.5 654.5 L735.5 654.5" fill="none" stroke="#121212" stroke-width="1" stroke-linejoin="miter"/>
<line x1="710.5" y1="604.8" x2="710.5" y2="608.8" stroke="#121212" stroke-width="1" stroke-linecap="butt"/>
<rect x="684.5" y="656.5" width="9" height="7" fill="none" stroke="#121212" stroke-width="1"/>
<rect x="686.5" y="657.5" width="6" height="4" fill="none" stroke="#121212" stroke-width="1"/>
<path d="M735.5 605.5 L728.5 605.5 L728.5 608.5 L735.5 608.5" fill="none" stroke="#121212" stroke-width="1" stroke-linejoin="miter"/>
<path d="M735.5 638.5 L728.5 638.5 L728.5 644.5 L735.5 644.5" fill="none" stroke="#121212" stroke-width="1" stroke-linejoin="miter"/>
<line x1="728.3" y1="643.9" x2="735.9" y2="643.9" stroke="#121212" stroke-width="1.7" stroke-linecap="butt"/>
</svg>
</body>
</html>
